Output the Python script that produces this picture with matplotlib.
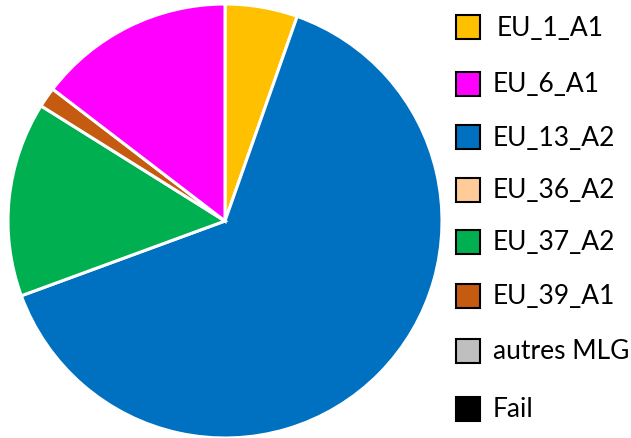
import matplotlib
matplotlib.use("Agg")
import matplotlib.pyplot as plt
from matplotlib.patches import Rectangle

# Pie wedges (clockwise from 12 o'clock)
wedge_labels = ["EU_1_A1", "EU_13_A2", "EU_37_A2", "EU_39_A1", "EU_6_A1"]
wedge_values = [5.4, 64.0, 14.5, 1.5, 14.6]

# Legend entries
legend_labels = ["EU_1_A1", "EU_6_A1", "EU_13_A2", "EU_36_A2", "EU_37_A2",
                 "EU_39_A1", "autres MLG", "Fail"]
legend_colors = ["#FFC000", "#FF00FF", "#0070C0", "#FFCC99", "#00B050",
                 "#C55A11", "#BFBFBF", "#000000"]
color_map = dict(zip(legend_labels, legend_colors))

W, H = 631, 439
fig = plt.figure(figsize=(W / 100, H / 100), dpi=100)
fig.patch.set_facecolor("white")

cx, cy, r = 225, 222, 217
ax = fig.add_axes([(cx - r) / W, (H - cy - r) / H, 2 * r / W, 2 * r / H])
ax.pie(wedge_values, colors=[color_map[l] for l in wedge_labels],
       startangle=90, counterclock=False, radius=1,
       wedgeprops=dict(edgecolor="white", linewidth=2.2))
ax.set_xlim(-1, 1)
ax.set_ylim(-1, 1)
ax.set_aspect("equal")
ax.axis("off")

# Legend drawn manually
row_y = [28, 85, 138, 191, 243, 297, 352, 410]
sq = 24
for i, (lab, col) in enumerate(zip(legend_labels, legend_colors)):
    y = row_y[i]
    fig.patches.append(Rectangle(((456) / W, (H - y - sq / 2) / H), sq / W, sq / H,
                                 transform=fig.transFigure, facecolor=col,
                                 edgecolor="black", linewidth=1.5))
    tx = 497 if i == 0 else 493
    fig.text(tx / W, (H - y) / H, lab, fontsize=19, family="Lato",
             va="center", ha="left", color="black")

fig.savefig("out.png", dpi=100)
